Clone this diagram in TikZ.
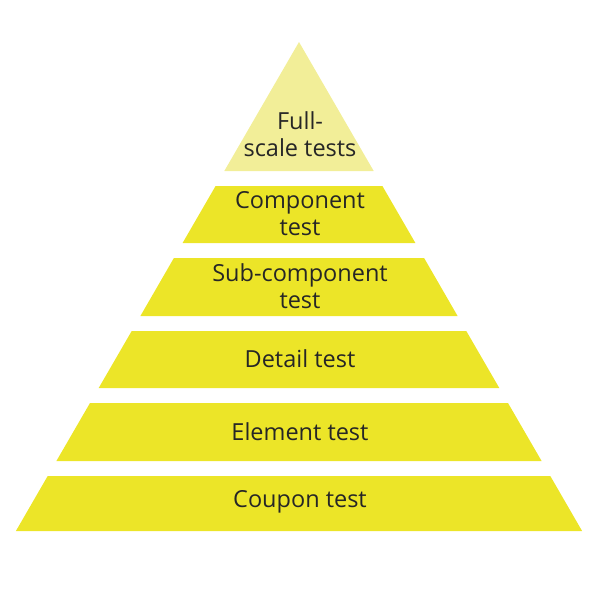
\documentclass[tikz,border=0pt]{standalone}
\usepackage{fontspec}
\setmainfont{Open Sans}
\begin{document}
\begin{tikzpicture}[x=1pt,y=-1pt,
  layer/.style={fill=lyellow,draw=none},
  lbl/.style={font=\fontsize{23.5}{27}\selectfont,align=center,text=black!85}]
\definecolor{lyellow}{HTML}{ECE528}
\definecolor{pyellow}{HTML}{F2EE98}
\useasboundingbox (0,0) rectangle (600,600);
\fill[pyellow] (299,42) -- (373.7,171) -- (224.3,171) -- cycle;
\fill[layer] (215.6,186) -- (382.4,186) -- (415.4,243) -- (182.6,243) -- cycle;
\fill[layer] (173.9,258) -- (424.1,258) -- (457.6,316) -- (140.4,316) -- cycle;
\fill[layer] (131.7,331) -- (466.3,331) -- (499.3,388) -- (98.7,388) -- cycle;
\fill[layer] (90.0,403) -- (508.0,403) -- (541.6,461) -- (56.4,461) -- cycle;
\fill[layer] (47.7,476) -- (550.3,476) -- (582.1,531) -- (15.9,531) -- cycle;
\node[lbl] (full) at (300,134) {Full-\\scale tests};
\node[lbl] (comp) at (300,214) {Component\\test};
\node[lbl] (sub) at (300,286) {Sub-component\\test};
\node[lbl] (det) at (300,359) {Detail test};
\node[lbl] (elem) at (300,432) {Element test};
\node[lbl] (coup) at (300,502) {Coupon test};
\end{tikzpicture}
\end{document}
